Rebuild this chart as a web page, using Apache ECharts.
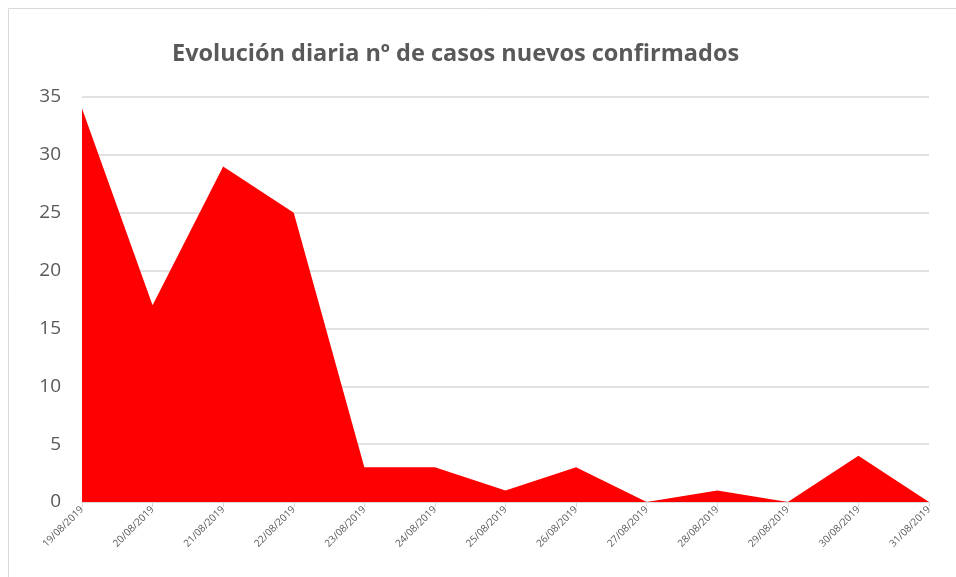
<!DOCTYPE html>
<html>
<head>
<meta charset="utf-8">
<script src="https://cdn.jsdelivr.net/npm/echarts@6/dist/echarts.min.js"></script>
<style>
  html, body { margin: 0; padding: 0; background: #fff; }
  #chart { width: 956px; height: 577px; }
</style>
</head>
<body>
<div id="chart"></div>
<script>
// fechas (eje x)
var fechas = ['19/08/2019', '20/08/2019', '21/08/2019', '22/08/2019', '23/08/2019', '24/08/2019',
  '25/08/2019', '26/08/2019', '27/08/2019', '28/08/2019', '29/08/2019', '30/08/2019', '31/08/2019'];
// casos nuevos confirmados por dia
var casosNuevos = [34, 17, 29, 25, 3, 3, 1, 3, 0, 1, 0, 4, 0];

var myChart = echarts.init(document.getElementById('chart'));

var option = {
  backgroundColor: '#fff',
  animation: false,
  title: {
    text: 'Evolución diaria nº de casos nuevos confirmados',
    left: 167,
    top: 37,
    textStyle: {
      fontFamily: 'Open Sans',
      fontSize: 23.5,
      fontWeight: 'bold',
      color: '#595959'
    }
  },
  graphic: [{
    type: 'rect',
    shape: { x: 8.5, y: 8.5, width: 960, height: 580 },
    style: { fill: 'none', stroke: '#d9d9d9', lineWidth: 1 }
  }],
  grid: {
    left: 82,
    right: 27,
    top: 97,
    bottom: 75
  },
  xAxis: {
    type: 'category',
    data: fechas,
    boundaryGap: false,
    axisLine: { lineStyle: { color: '#d9d9d9', width: 1 } },
    axisTick: { show: true, alignWithLabel: true, length: 5, lineStyle: { color: '#d9d9d9' } },
    axisLabel: {
      rotate: 45,
      interval: 0,
      fontFamily: 'Open Sans',
      fontSize: 10,
      color: '#595959',
      margin: 6
    }
  },
  yAxis: {
    type: 'value',
    min: 0,
    max: 35,
    interval: 5,
    axisLine: { show: false },
    axisTick: { show: false },
    axisLabel: {
      fontFamily: 'Open Sans',
      fontSize: 19,
      color: '#595959',
      margin: 21
    },
    splitLine: { lineStyle: { color: '#d9d9d9', width: 1.5 } }
  },
  series: [{
    name: 'Casos nuevos',
    type: 'line',
    data: casosNuevos,
    symbol: 'none',
    lineStyle: { width: 0 },
    areaStyle: { color: '#ff0000', opacity: 1 },
    itemStyle: { color: '#ff0000' }
  }]
};

myChart.setOption(option);
</script>
</body>
</html>
